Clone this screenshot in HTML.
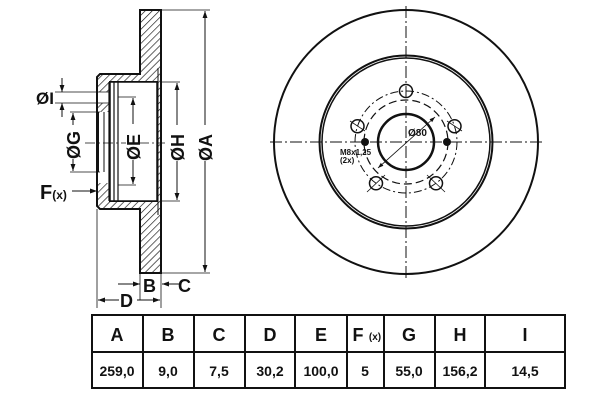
<!DOCTYPE html>
<html><head><style>
html,body{margin:0;padding:0;background:#fff;}
svg{display:block;}
text{font-family:"Liberation Sans",Arial,sans-serif;font-weight:bold;fill:#111;}
</style></head><body>
<svg width="600" height="400" viewBox="0 0 600 400" xmlns="http://www.w3.org/2000/svg">
<defs>
<pattern id="h" width="5" height="5" patternUnits="userSpaceOnUse" patternTransform="rotate(45)">
<line x1="0" y1="0" x2="0" y2="5" stroke="#111" stroke-width="1.3"/>
</pattern>
<marker id="a" viewBox="0 0 10 10" refX="10" refY="5" markerWidth="7" markerHeight="7" orient="auto-start-reverse"><path d="M0,1.5 L10,5 L0,8.5z" fill="#111"/></marker>
</defs>
<!-- section -->
<path d="M140,10 H161 V273 H140 V209 H100 L97,206 V77 L100,74 H140 Z M110,82 V201 H157 V82 Z" fill="url(#h)" fill-rule="evenodd" stroke="#111" stroke-width="2"/>
<rect x="110" y="82" width="47" height="119" fill="#fff" stroke="#111" stroke-width="1.5"/>
<line x1="114" y1="82" x2="114" y2="201" stroke="#111" stroke-width="1.2"/>
<line x1="118" y1="82" x2="118" y2="201" stroke="#111" stroke-width="1.2"/>
<line x1="158" y1="68" x2="158" y2="215" stroke="#111" stroke-width="1"/>
<!-- holes in wall -->
<rect x="98" y="92" width="11" height="11" fill="#fff"/>
<rect x="98" y="172" width="11" height="11" fill="#fff"/>
<rect x="98" y="112" width="11" height="60" fill="#fff"/>
<line x1="98" y1="112" x2="98" y2="172" stroke="#111" stroke-width="2"/>
<line x1="104" y1="112" x2="104" y2="172" stroke="#111" stroke-width="1"/>
<line x1="109" y1="82" x2="109" y2="201" stroke="#111" stroke-width="1.2"/>
<!-- center line -->
<line x1="85" y1="143" x2="165" y2="143" stroke="#111" stroke-width="0.8" stroke-dasharray="10,3,2,3"/>
<!-- I -->
<line x1="55" y1="92" x2="110" y2="92" stroke="#111" stroke-width="0.8"/>
<line x1="55" y1="103" x2="110" y2="103" stroke="#111" stroke-width="0.8"/>
<line x1="62" y1="78" x2="62" y2="92" stroke="#111" marker-end="url(#a)"/>
<line x1="62" y1="117" x2="62" y2="103" stroke="#111" marker-end="url(#a)"/>
<text x="36" y="104" font-size="17">ØI</text>
<!-- G -->
<line x1="70" y1="112" x2="100" y2="112" stroke="#111" stroke-width="0.8"/>
<line x1="70" y1="172" x2="100" y2="172" stroke="#111" stroke-width="0.8"/>
<line x1="73" y1="113" x2="73" y2="171" stroke="#111" marker-start="url(#a)" marker-end="url(#a)"/>
<rect x="66" y="125" width="14" height="34" fill="#fff"/>
<text transform="translate(80,159) rotate(-90)" font-size="18">ØG</text>
<!-- E -->
<line x1="118" y1="97" x2="136" y2="97" stroke="#111" stroke-width="0.8"/>
<line x1="118" y1="185" x2="136" y2="185" stroke="#111" stroke-width="0.8"/>
<line x1="133" y1="98" x2="133" y2="184" stroke="#111" marker-start="url(#a)" marker-end="url(#a)"/>
<rect x="126" y="124" width="14" height="36" fill="#fff"/>
<text transform="translate(140,160) rotate(-90)" font-size="18">ØE</text>
<!-- H -->
<line x1="160" y1="82" x2="180" y2="82" stroke="#111" stroke-width="0.8"/>
<line x1="160" y1="201" x2="180" y2="201" stroke="#111" stroke-width="0.8"/>
<line x1="177" y1="83" x2="177" y2="200" stroke="#111" marker-start="url(#a)" marker-end="url(#a)"/>
<rect x="170" y="125" width="14" height="36" fill="#fff"/>
<text transform="translate(184,161) rotate(-90)" font-size="18">ØH</text>
<!-- A -->
<line x1="161" y1="10" x2="210" y2="10" stroke="#111" stroke-width="0.8"/>
<line x1="161" y1="273" x2="210" y2="273" stroke="#111" stroke-width="0.8"/>
<line x1="205" y1="11" x2="205" y2="272" stroke="#111" marker-start="url(#a)" marker-end="url(#a)"/>
<rect x="198" y="125" width="14" height="36" fill="#fff"/>
<text transform="translate(212,161) rotate(-90)" font-size="18">ØA</text>
<!-- F -->
<text x="40" y="199" font-size="20">F<tspan font-size="12">(x)</tspan></text>
<line x1="72" y1="191" x2="97" y2="191" stroke="#111" marker-end="url(#a)"/>
<!-- B C D -->
<line x1="140" y1="273" x2="140" y2="300" stroke="#111" stroke-width="0.8"/>
<line x1="161" y1="273" x2="161" y2="308" stroke="#111" stroke-width="0.8"/>
<line x1="97" y1="209" x2="97" y2="308" stroke="#111" stroke-width="0.8"/>
<line x1="118" y1="284" x2="140" y2="284" stroke="#111" marker-end="url(#a)"/>
<line x1="180" y1="284" x2="162" y2="284" stroke="#111" marker-end="url(#a)"/>
<text x="143" y="292" font-size="18">B</text>
<text x="178" y="292" font-size="18">C</text>
<line x1="98" y1="300" x2="160" y2="300" stroke="#111" marker-start="url(#a)" marker-end="url(#a)"/>
<rect x="119" y="290" width="18" height="18" fill="#fff"/>
<text x="120" y="307" font-size="18">D</text>
<!-- right disc -->
<g stroke="#111" fill="none">
<circle cx="406" cy="142" r="132" stroke-width="2"/>
<circle cx="406" cy="142" r="86.5" stroke-width="2"/>
<circle cx="406" cy="142" r="84" stroke-width="1.5"/>
<circle cx="406" cy="142" r="28" stroke-width="2.5"/>
<circle cx="406" cy="142" r="51" stroke-width="1" stroke-dasharray="8,3,2,3"/>
<circle cx="406" cy="142" r="42" stroke-width="1.2" stroke-dasharray="8,4"/>
<line x1="406" y1="6" x2="406" y2="278" stroke-width="1" stroke-dasharray="12,3,2,3"/>
<line x1="270" y1="142" x2="545" y2="142" stroke-width="1" stroke-dasharray="12,3,2,3"/>
<g stroke-width="1.5">
<circle cx="406" cy="91" r="6.5"/><circle cx="454.5" cy="126.2" r="6.5"/><circle cx="436" cy="183.3" r="6.5"/><circle cx="376" cy="183.3" r="6.5"/><circle cx="357.5" cy="126.2" r="6.5"/>
</g>
<g stroke-width="0.8">
<line x1="447" y1="121" x2="462" y2="131"/><line x1="427" y1="175" x2="445" y2="192"/><line x1="385" y1="175" x2="367" y2="192"/><line x1="350" y1="121" x2="365" y2="131"/>
</g>
<line x1="378" y1="168" x2="435" y2="117" stroke-width="0.8" marker-start="url(#a)" marker-end="url(#a)"/>
</g>
<circle cx="365" cy="142" r="4" fill="#111"/>
<circle cx="447" cy="142" r="4" fill="#111"/>
<text x="408" y="136" font-size="10" font-weight="normal">Ø80</text>
<text x="340" y="155" font-size="8">M8x1,25</text>
<text x="340" y="163" font-size="8">(2x)</text>
<!-- table -->
<g stroke="#111" stroke-width="2" fill="none">
<rect x="92" y="315" width="473" height="73"/>
<line x1="92" y1="352" x2="565" y2="352"/>
<line x1="143" y1="315" x2="143" y2="388"/><line x1="194" y1="315" x2="194" y2="388"/>
<line x1="245" y1="315" x2="245" y2="388"/><line x1="295" y1="315" x2="295" y2="388"/>
<line x1="347" y1="315" x2="347" y2="388"/><line x1="384" y1="315" x2="384" y2="388"/>
<line x1="435" y1="315" x2="435" y2="388"/><line x1="485" y1="315" x2="485" y2="388"/>
</g>
<g font-size="18" text-anchor="middle">
<text x="117" y="341">A</text><text x="168" y="341">B</text><text x="219" y="341">C</text><text x="270" y="341">D</text><text x="321" y="341">E</text>
<text x="358" y="341">F</text><text x="375" y="340" font-size="10">(x)</text><text x="409" y="341">G</text><text x="460" y="341">H</text><text x="525" y="341">I</text>
</g>
<g font-size="14" text-anchor="middle">
<text x="117" y="376">259,0</text><text x="168" y="376">9,0</text><text x="219" y="376">7,5</text><text x="270" y="376">30,2</text><text x="321" y="376">100,0</text>
<text x="365" y="376">5</text><text x="409" y="376">55,0</text><text x="460" y="376">156,2</text><text x="525" y="376">14,5</text>
</g>
</svg>
</body></html>
